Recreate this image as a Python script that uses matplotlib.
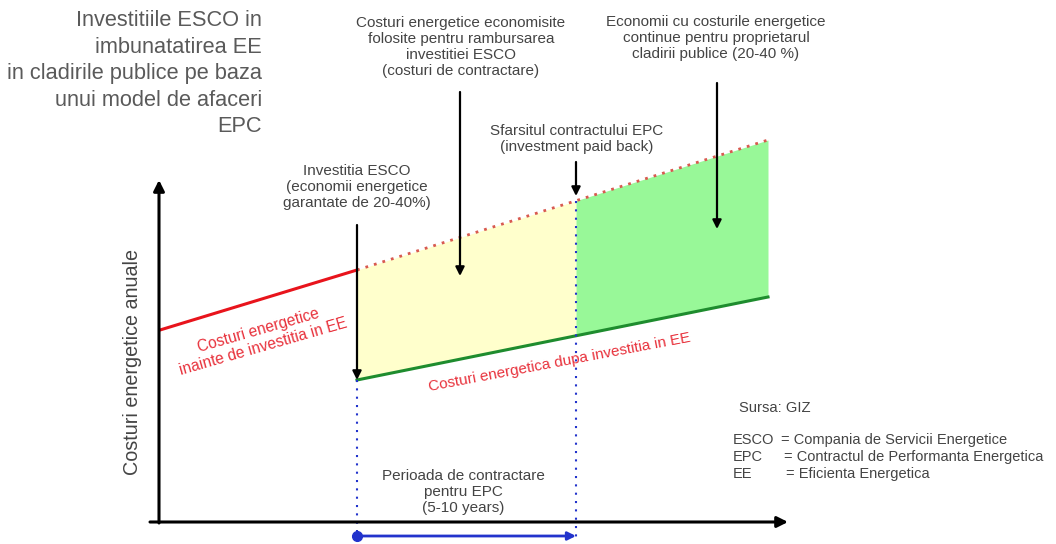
import matplotlib.pyplot as plt
import numpy as np

plt.rcParams['font.family'] = ['Liberation Sans', 'DejaVu Sans']

# diagram values (x = time, y = annual cost; canvas units, y grows downward)
t_before = [160, 357]
cost_before = [330, 270]
t_projected = [357, 768]
cost_projected = [270, 140]
t_after = [357, 768]
cost_after = [380, 297]
t_invest = 357
t_contract_end = 576
t_end = 768

title_lines = ["Investitiile ESCO in", "imbunatatirea EE", "in cladirile publice pe baza",
               "unui model de afaceri", "EPC"]
abbrev_keys = ["ESCO", "EPC", "EE"]
abbrev_vals = ["= Compania de Servicii Energetice",
               "= Contractul de Performanta Energetica",
               "= Eficienta Energetica"]

RED = "#e8141c"
RED_TXT = "#e8323c"
GREEN = "#1e8c2e"
BLUE = "#2233cc"
GREY = "#5a5a5a"
TXT = "#444444"

fig = plt.figure(figsize=(10.56, 5.44), dpi=100)
ax = fig.add_axes([0, 0, 1, 1])
ax.set_xlim(0, 1056)
ax.set_ylim(544, 0)
ax.axis("off")


def line_at(x, xs, ys):
    return np.interp(x, xs, ys)


# fills
xa = np.linspace(t_invest, t_contract_end, 50)
ax.fill_between(xa, line_at(xa, t_projected, cost_projected), line_at(xa, t_after, cost_after),
                color="#ffffcc", lw=0)
xb = np.linspace(t_contract_end, t_end, 50)
ax.fill_between(xb, line_at(xb, t_projected, cost_projected), line_at(xb, t_after, cost_after),
                color="#98f898", lw=0)

# cost lines
ax.plot(t_before, cost_before, color=RED, lw=2.2)
ax.plot(t_projected, cost_projected, color="#d85a50", lw=2, ls=(0, (1, 2.2)))
ax.plot(t_after, cost_after, color=GREEN, lw=2.2)

# blue dotted period markers
y_base = 540
ax.plot([t_invest, t_invest], [line_at(t_invest, t_after, cost_after), y_base],
        color=BLUE, lw=1.5, ls=(0, (1, 3)))
ax.plot([t_contract_end, t_contract_end], [line_at(t_contract_end, t_projected, cost_projected), y_base],
        color=BLUE, lw=1.5, ls=(0, (1, 3)))
ax.annotate("", xy=(t_contract_end, 536), xytext=(t_invest, 536),
            arrowprops=dict(arrowstyle="-|>", color=BLUE, lw=2, mutation_scale=12, shrinkA=0, shrinkB=0))
ax.plot([t_invest], [536], "o", color=BLUE, ms=7)

# axes arrows
ax.annotate("", xy=(159, 180), xytext=(159, 523),
            arrowprops=dict(arrowstyle="-|>", color="black", lw=2.2, mutation_scale=16, shrinkA=0, shrinkB=0))
ax.annotate("", xy=(788, 522), xytext=(150, 522),
            arrowprops=dict(arrowstyle="-|>", color="black", lw=2.2, mutation_scale=16, shrinkA=0, shrinkB=0))


# pointer arrows
def pointer(x, y0, y1):
    ax.annotate("", xy=(x, y1), xytext=(x, y0),
                arrowprops=dict(arrowstyle="-|>", color="black", lw=1.6, mutation_scale=13,
                                shrinkA=0, shrinkB=0))


pointer(t_invest, 225, line_at(t_invest, t_after, cost_after))
pointer(460, 92, 276)
pointer(t_contract_end, 162, 196)
pointer(717, 83, 229)

# texts
for i, s in enumerate(title_lines):
    ax.text(262, 21 + i * 26.5, s, ha="right", va="center", fontsize=15.7, color=GREY)

kw = dict(ha="center", va="center", fontsize=11, color=TXT, linespacing=1.2)
ax.text(461, 47, "Costuri energetice economisite\nfolosite pentru rambursarea\ninvestitiei ESCO\n(costuri de contractare)", **kw)
ax.text(716, 38, "Economii cu costurile energetice\ncontinue pentru proprietarul\ncladirii publice (20-40 %)", **kw)
ax.text(577, 139, "Sfarsitul contractului EPC\n(investment paid back)", **kw)
ax.text(357, 187, "Investitia ESCO\n(economii energetice\ngarantate de 20-40%)", **kw)
ax.text(463, 492, "Perioada de contractare\npentru EPC\n(5-10 years)", **kw)

ax.text(133, 362, "Costuri energetice anuale", rotation=90, ha="center", va="center",
        fontsize=14.2, color=TXT)

ax.text(261, 339, "Costuri energetice\ninainte de investitia in EE", rotation=16, ha="center",
        va="center", rotation_mode="anchor", fontsize=11.2, color=RED_TXT, linespacing=1.15)
ax.text(560, 362, "Costuri energetica dupa investitia in EE", rotation=10.7, ha="center",
        va="center", rotation_mode="anchor", fontsize=11, color=RED_TXT)

ax.text(739, 408, "Sursa: GIZ", ha="left", va="center", fontsize=10.6, color=TXT)
for i, (k, v) in enumerate(zip(abbrev_keys, abbrev_vals)):
    ax.text(733, 440 + i * 17, k, ha="left", va="center", fontsize=10.5, color=TXT)
    ax.text(781 + i * 2.5, 440 + i * 17, v, ha="left", va="center", fontsize=10.5, color=TXT)

fig.savefig("out.png", dpi=100)
